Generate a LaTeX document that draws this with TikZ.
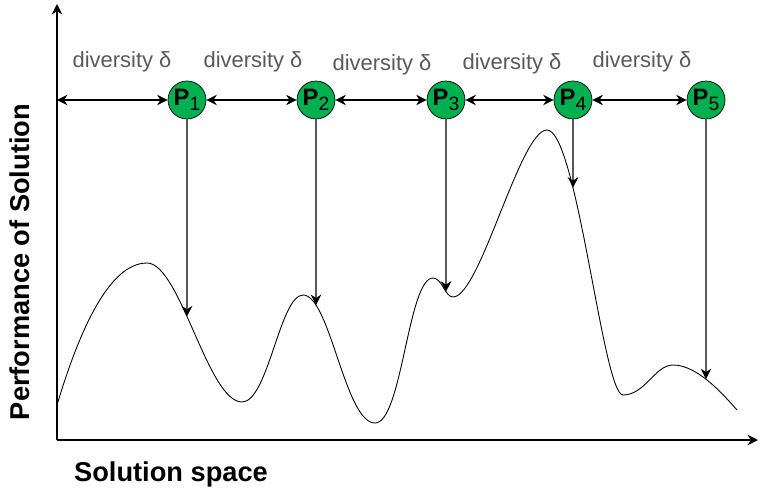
\documentclass[tikz,border=0pt]{standalone}
\usepackage{fontspec}
\setmainfont{Liberation Sans}
\usetikzlibrary{arrows.meta,intersections}
\definecolor{pgreen}{RGB}{0,176,80}
\newcommand{\pname}[1]{\textbf{P}\raisebox{-2.6pt}{\fontsize{11}{12}\selectfont #1}}
\begin{document}
\begin{tikzpicture}[x=0.02cm,y=-0.02cm,
  ptnode/.style={circle,draw,fill=pgreen,minimum size=0.76cm,inner sep=0pt,font=\fontsize{13.5}{14}\selectfont},
  divlabel/.style={text=black!65,font=\fontsize{12.5}{14}\selectfont},
  axislabel/.style={font=\fontsize{15.5}{18}\selectfont\bfseries},
  link/.style={line width=0.6pt},
  >={Stealth[length=6pt,width=6pt]},
  ]
\useasboundingbox (0,0) rectangle (760,490);
% axes
\coordinate (o) at (57,440);
\coordinate (ytop) at (57,4);
\coordinate (xend) at (758,440);
\draw[thick,->] (o) -- (ytop);
\draw[thick,->] (o) -- (xend);
\node[axislabel,rotate=90] (ylab) at (20,262) {Performance of Solution};
\node[axislabel] (xlab) at (171,474) {Solution space};
% landscape
\draw[line width=0.5pt,name path=land] (57,405)
  .. controls (78,335) and (108,263) .. (147,263)
  .. controls (180,263) and (208,402) .. (242,402)
  .. controls (268,402) and (280,295) .. (303,295)
  .. controls (330,295) and (345,423) .. (375,423)
  .. controls (402,423) and (408,278) .. (433,278)
  .. controls (442,278) and (445,297) .. (453,297)
  .. controls (480,297) and (520,130) .. (547,130)
  .. controls (577,130) and (603,395) .. (623,395)
  .. controls (645,395) and (655,365) .. (673,365)
  .. controls (697,365) and (722,393) .. (737,410);
% population
\coordinate (p0) at (57,100);
\node[ptnode] (p1) at (187,100) {\pname{1}};
\node[ptnode] (p2) at (316,100) {\pname{2}};
\node[ptnode] (p3) at (446,100) {\pname{3}};
\node[ptnode] (p4) at (573,100) {\pname{4}};
\node[ptnode] (p5) at (706,100) {\pname{5}};
\foreach \a/\b in {0/1,1/2,2/3,3/4,4/5}
  \draw[link,<->] (p\a) -- (p\b);
\node[divlabel] (d1) at (122,62) {diversity δ};
\node[divlabel] (d2) at (253,62) {diversity δ};
\node[divlabel] (d3) at (382,65) {diversity δ};
\node[divlabel] (d4) at (512,64) {diversity δ};
\node[divlabel] (d5) at (642,62) {diversity δ};
% drops onto the landscape
\foreach \i in {1,...,5}{
  \path[name path=drop\i] (p\i) -- ++(0,330);
  \path[name intersections={of=land and drop\i,by={s\i}}];
  \draw[link,->] (p\i) -- (s\i);
}
\end{tikzpicture}
\end{document}
